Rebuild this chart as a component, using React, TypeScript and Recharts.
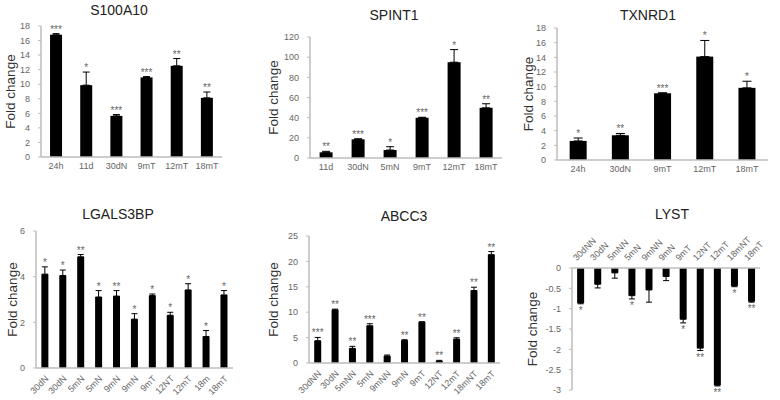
import React from "react";
import { BarChart, Bar, XAxis, YAxis, ErrorBar } from "recharts";

const FONT = '"Liberation Sans", Arial, Helvetica, sans-serif';

// S100A10
const s100Cats = ["24h", "11d", "30dN", "9mT", "12mT", "18mT"];
const s100Vals = [16.8, 9.87, 5.65, 10.93, 12.53, 8.13];
const s100Errs = [0.15, 1.8, 0.18, 0.12, 1.0, 0.8];
const s100Stars = ["***", "*", "***", "***", "**", "**"];
const s100Ticks = [0, 2, 4, 6, 8, 10, 12, 14, 16, 18];

// SPINT1
const spintCats = ["11d", "30dN", "5mN", "9mT", "12mT", "18mT"];
const spintVals = [5.6, 18.5, 7.9, 39.9, 95, 49.8];
const spintErrs = [1.0, 0.6, 3.3, 0.5, 12.5, 4.0];
const spintStars = ["**", "***", "*", "***", "*", "**"];
const spintTicks = [0, 20, 40, 60, 80, 100, 120];

// TXNRD1
const txnCats = ["24h", "30dN", "9mT", "12mT", "18mT"];
const txnVals = [2.6, 3.37, 9.1, 14.1, 9.84];
const txnErrs = [0.4, 0.25, 0.07, 2.2, 0.9];
const txnStars = ["*", "**", "***", "*", "*"];
const txnTicks = [0, 2, 4, 6, 8, 10, 12, 14, 16, 18];

// LGALS3BP
const lgalsCats = ["30dN", "30dN", "5mN", "5mN", "9mN", "9mN", "9mT", "12NT", "12mT", "18m", "18mT"];
const lgalsVals = [4.11, 4.05, 4.87, 3.11, 3.15, 2.14, 3.17, 2.31, 3.42, 1.38, 3.2];
const lgalsErrs = [0.32, 0.24, 0.1, 0.28, 0.24, 0.24, 0.07, 0.13, 0.27, 0.26, 0.19];
const lgalsStars = ["*", "*", "**", "*", "**", "*", "*", "*", "*", "*", "*"];
const lgalsTicks = [0, 2, 4, 6];

// ABCC3
const abccCats = ["30dNN", "30dN", "5mNN", "5mN", "9mNN", "9mN", "9mT", "12NT", "12mT", "18mNT", "18mT"];
const abccVals = [4.38, 10.47, 2.88, 7.33, 1.37, 4.45, 8.05, 0.39, 4.71, 14.27, 21.33];
const abccErrs = [0.65, 0.13, 0.4, 0.4, 0.2, 0.13, 0.07, 0.13, 0.26, 0.65, 0.6];
const abccStars = ["***", "**", "**", "***", "", "**", "**", "**", "**", "**", "**"];
const abccTicks = [0, 5, 10, 15, 20, 25];

// LYST
const lystCats = ["30dNN", "30dN", "5mNN", "5mN", "9mNN", "9mN", "9mT", "12NT", "12mT", "18mNT", "18mT"];
const lystVals = [-0.86, -0.4, -0.12, -0.68, -0.54, -0.21, -1.26, -1.97, -2.88, -0.44, -0.82];
const lystErrs = [0.02, 0.09, 0.13, 0.08, 0.3, 0.1, 0.09, 0.06, 0.02, 0.02, 0.02];
const lystStars = ["*", "", "", "*", "", "", "*", "**", "**", "*", "**"];
const lystTicks = [-3, -2.5, -2, -1.5, -1, -0.5, 0];

type Box = { l: number; r: number; t: number; b: number };
type PanelProps = {
  title: string;
  titleX: number;
  titleY: number;
  cats: string[];
  vals: number[];
  errs: number[];
  stars: string[];
  yTicks: number[];
  plot: Box;
  labelX: number;
  cap: number;
  angled?: boolean;
  topAxis?: boolean;
};

function Panel(p: PanelProps) {
  const YW = 50;
  const data = p.cats.map((name, i) => ({
    name,
    value: p.vals[i],
    err: p.vals[i] < 0 ? [p.errs[i], 0] : [0, p.errs[i]],
    e: p.errs[i],
    stars: p.stars[i],
  }));
  const left = p.plot.l - YW;
  const xh = p.angled || p.topAxis ? 40 : 22;
  const mt = p.topAxis ? 2 : 10;
  const mb = p.topAxis ? 9 : 2;
  const top = p.topAxis ? p.plot.t - xh - mt : p.plot.t - mt;
  const width = p.plot.r - left + 4;
  const height = p.topAxis ? p.plot.b + mb - top : p.plot.b + xh + mb - top;
  const domain = [Math.min(...p.yTicks), Math.max(...p.yTicks)];

  // bar plus its significance stars, placed past the error bar end
  const barShape = (props: any) => {
    const { x, y, width: w, height: h, payload } = props;
    const y0 = Math.min(y, y + h);
    const hh = Math.abs(h);
    const px = hh / Math.abs(payload.value);
    const cx = x + w / 2;
    const ty = payload.value >= 0 ? y0 - payload.e * px - 1 : y0 + hh + payload.e * px + 10;
    return (
      <g>
        <rect x={x} y={y0} width={w} height={hh} fill="#000" />
        {payload.stars ? (
          <text x={cx} y={ty} textAnchor="middle" fontSize={10} fill="#666" fontFamily={FONT}>
            {payload.stars}
          </text>
        ) : null}
      </g>
    );
  };

  const angledTick = (props: any) => {
    const { x, y, payload } = props;
    if (p.topAxis) {
      return (
        <text transform={`translate(${x - 6},${y - 9}) rotate(-45)`} dy="0.35em" textAnchor="start" fontSize={9} fill="#666" fontFamily={FONT}>
          {payload.value}
        </text>
      );
    }
    return (
      <text transform={`translate(${x + 2},${y + 9}) rotate(-45)`} dy="0.35em" textAnchor="end" fontSize={9} fill="#666" fontFamily={FONT}>
        {payload.value}
      </text>
    );
  };

  const yLabel = () => {
    const lx = p.labelX - left;
    const ly = p.plot.t - top + (p.plot.b - p.plot.t) / 2;
    return (
      <text
        x={lx}
        y={ly}
        transform={`rotate(-90, ${lx}, ${ly})`}
        textAnchor="middle"
        dominantBaseline="central"
        fontSize={13.5}
        fill="#333"
        fontFamily={FONT}
      >
        Fold change
      </text>
    );
  };

  return (
    <>
      <div
        style={{
          position: "absolute",
          left: p.titleX - 60,
          top: p.titleY - 9,
          width: 120,
          textAlign: "center",
          fontFamily: FONT,
          fontSize: 14,
          color: "#222",
          lineHeight: "18px",
        }}
      >
        {p.title}
      </div>
      <div style={{ position: "absolute", left, top }}>
        <BarChart
          width={width}
          height={height}
          data={data}
          margin={{ top: mt, right: 4, bottom: mb, left: 0 }}
          barCategoryGap="30%"
          style={{ overflow: "visible" }}
        >
          <XAxis
            dataKey="name"
            orientation={p.topAxis ? "top" : "bottom"}
            height={xh}
            axisLine={{ stroke: "#bdbdbd", strokeWidth: 1.5 }}
            tickLine={false}
            tickSize={0}
            tickMargin={p.angled || p.topAxis ? 0 : 6}
            interval={0}
            tick={p.angled || p.topAxis ? angledTick : { fontSize: 9, fill: "#666", fontFamily: FONT }}
          />
          <YAxis
            width={YW}
            domain={domain}
            ticks={p.yTicks}
            interval={0}
            axisLine={{ stroke: "#bdbdbd", strokeWidth: 1.5 }}
            tickLine={{ stroke: "#bdbdbd" }}
            tickSize={3}
            tickMargin={8}
            tick={{ fontSize: 9, fill: "#666", fontFamily: FONT }}
            label={yLabel}
          />
          <Bar dataKey="value" fill="#000" shape={barShape} isAnimationActive={false}>
            <ErrorBar dataKey="err" direction="y" width={p.cap} stroke="#000" strokeWidth={1} isAnimationActive={false} />
          </Bar>
        </BarChart>
      </div>
    </>
  );
}

export default function App() {
  return (
    <div style={{ position: "absolute", left: 0, top: 0, width: 780, height: 400, background: "#fff", overflow: "hidden" }}>
      <Panel
        title="S100A10"
        titleX={119}
        titleY={10}
        cats={s100Cats}
        vals={s100Vals}
        errs={s100Errs}
        stars={s100Stars}
        yTicks={s100Ticks}
        plot={{ l: 41, r: 222, t: 26, b: 157 }}
        labelX={10}
        cap={3.5}
      />
      <Panel
        title="SPINT1"
        titleX={394}
        titleY={15}
        cats={spintCats}
        vals={spintVals}
        errs={spintErrs}
        stars={spintStars}
        yTicks={spintTicks}
        plot={{ l: 310, r: 502, t: 37, b: 158 }}
        labelX={273}
        cap={4}
      />
      <Panel
        title="TXNRD1"
        titleX={648}
        titleY={15}
        cats={txnCats}
        vals={txnVals}
        errs={txnErrs}
        stars={txnStars}
        yTicks={txnTicks}
        plot={{ l: 557, r: 768, t: 28, b: 160 }}
        labelX={528}
        cap={4.5}
      />
      <Panel
        title="LGALS3BP"
        titleX={118}
        titleY={214}
        cats={lgalsCats}
        vals={lgalsVals}
        errs={lgalsErrs}
        stars={lgalsStars}
        yTicks={lgalsTicks}
        plot={{ l: 36, r: 233, t: 231, b: 368 }}
        labelX={12}
        cap={3}
        angled
      />
      <Panel
        title="ABCC3"
        titleX={404}
        titleY={216}
        cats={abccCats}
        vals={abccVals}
        errs={abccErrs}
        stars={abccStars}
        yTicks={abccTicks}
        plot={{ l: 309, r: 500, t: 236, b: 363 }}
        labelX={273}
        cap={3}
        angled
      />
      <Panel
        title="LYST"
        titleX={672}
        titleY={214}
        cats={lystCats}
        vals={lystVals}
        errs={lystErrs}
        stars={lystStars}
        yTicks={lystTicks}
        plot={{ l: 572, r: 760, t: 268, b: 390 }}
        labelX={532}
        cap={3}
        topAxis
      />
    </div>
  );
}
